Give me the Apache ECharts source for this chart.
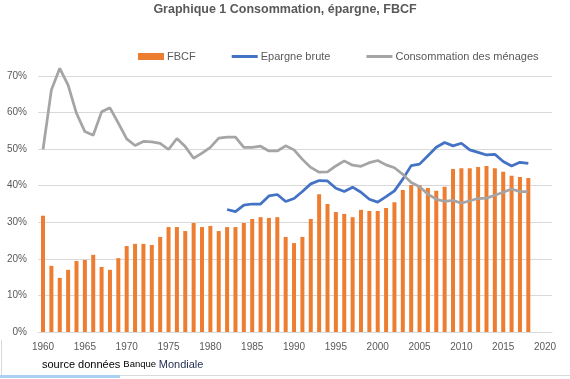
<!DOCTYPE html>
<html>
<head>
<meta charset="utf-8">
<script src="https://cdn.jsdelivr.net/npm/echarts@6/dist/echarts.min.js"></script>
<style>
html,body{margin:0;padding:0;background:#fff;}
#c{width:570px;height:379px;}
</style>
</head>
<body>
<div id="c"></div>
<script>
var years = [1960,1961,1962,1963,1964,1965,1966,1967,1968,1969,
             1970,1971,1972,1973,1974,1975,1976,1977,1978,1979,
             1980,1981,1982,1983,1984,1985,1986,1987,1988,1989,
             1990,1991,1992,1993,1994,1995,1996,1997,1998,1999,
             2000,2001,2002,2003,2004,2005,2006,2007,2008,2009,
             2010,2011,2012,2013,2014,2015,2016,2017,2018];
var fbcf = [31.8,18.1,14.8,17.0,19.4,19.7,21.1,17.8,17.0,20.2,
            23.5,24.1,24.1,23.8,26.0,28.7,28.7,27.6,29.8,28.7,
            29.0,27.6,28.7,28.7,29.8,30.9,31.4,31.2,31.4,26.0,
            24.3,26.0,30.9,37.7,35.0,32.8,32.3,31.4,33.4,33.1,
            33.1,33.9,35.5,38.8,40.2,40.2,39.4,38.6,39.7,44.6,
            44.8,44.8,45.1,45.4,44.8,43.8,42.7,42.4,42.1];
var consommation = [49.9,66.2,72.1,67.5,59.8,54.8,53.8,60.2,61.3,57.1,
                    52.8,51.0,52.1,52.0,51.6,49.9,52.9,50.7,47.5,48.9,
                    50.5,53.0,53.3,53.3,50.5,50.5,50.8,49.5,49.5,50.9,
                    49.8,47.2,45.0,43.7,43.8,45.4,46.8,45.6,45.3,46.3,
                    46.9,45.7,44.9,43.1,40.9,39.7,37.7,36.3,35.7,36.0,
                    35.2,35.9,36.5,36.6,37.4,38.2,39.1,38.4,38.4];
var epargneYears = [1982,1983,1984,1985,1986,1987,1988,1989,
                    1990,1991,1992,1993,1994,1995,1996,1997,1998,1999,
                    2000,2001,2002,2003,2004,2005,2006,2007,2008,2009,
                    2010,2011,2012,2013,2014,2015,2016,2017,2018];
var epargne = [33.5,32.9,34.7,35.0,35.0,37.2,37.6,35.7,
               36.5,38.4,40.5,41.4,41.3,39.3,38.4,39.6,38.2,36.3,
               35.5,37.0,38.6,41.8,45.5,45.9,48.2,50.5,51.8,50.9,
               51.6,49.8,49.1,48.4,48.6,46.6,45.4,46.4,46.1];
var xTicks = [1960,1965,1970,1975,1980,1985,1990,1995,2000,2005,2010,2015,2020];

function pairs(xs, ys){ return xs.map(function(x,i){ return [x, ys[i]]; }); }

var chart = echarts.init(document.getElementById('c'), null, {renderer:'canvas'});
var FONT = '"Liberation Sans", Arial, sans-serif';
var LINE_ICON = 'path://M0,0 L26,0 L26,3 L0,3 Z';
chart.setOption({
  animation: false,
  backgroundColor: '#fff',
  textStyle: {fontFamily: FONT},
  title: {
    text: 'Graphique 1 Consommation, épargne, FBCF',
    left: 'center', top: -2,
    textStyle: {fontFamily: FONT, fontSize: 12.5, fontWeight: 'bold', color: '#595959'}
  },
  legend: {
    left: 138, top: 51, padding: 0,
    itemWidth: 26, itemHeight: 7, itemGap: 36,
    textStyle: {fontFamily: FONT, fontSize: 11, color: '#595959', padding:[0,0,0,-2]},
    data: [{name:'FBCF', icon:'rect'},
           {name:'Epargne brute', icon: LINE_ICON, itemStyle:{color:'#4472C4'}},
           {name:'Consommation des ménages', icon: LINE_ICON, itemStyle:{color:'#A5A5A5'}}]
  },
  grid: {left: 38, right: 18, top: 76, bottom: 47},
  xAxis: {
    type: 'value', min: 1959.4, max: 2020.83,
    axisLine: {show: true, lineStyle: {color: '#D9D9D9', width: 1}},
    axisTick: {show: false},
    splitLine: {show: false},
    axisLabel: {customValues: xTicks, color: '#595959', fontSize: 10, margin: 10, fontFamily: FONT,
                formatter: function(v){ return String(Math.round(v)); }}
  },
  yAxis: {
    type: 'value', min: 0, max: 70, interval: 10,
    axisLine: {show: false}, axisTick: {show: false},
    splitLine: {lineStyle: {color: '#D9D9D9', width: 1}},
    axisLabel: {formatter: '{value}%', color: '#595959', fontSize: 10, margin: 11, fontFamily: FONT}
  },
  series: [
    {name:'FBCF', type:'bar', barWidth: 4, itemStyle:{color:'#ED7D31'},
     data: pairs(years, fbcf)},
    {name:'Epargne brute', type:'line', symbol:'none', clip:false,
     lineStyle:{color:'#4472C4', width:2.75}, itemStyle:{color:'#4472C4'},
     data: pairs(epargneYears, epargne)},
    {name:'Consommation des ménages', type:'line', symbol:'none', clip:false,
     lineStyle:{color:'#A5A5A5', width:2.75}, itemStyle:{color:'#A5A5A5'},
     data: pairs(years, consommation)}
  ],
  graphic: [
    {type:'text', left: 42, top: 359,
     style:{text:'{a|source données }{b|Banque }{c|Mondiale}',
       rich:{a:{fontSize:11, fill:'#000', fontFamily:FONT},
             b:{fontSize:9.5, fill:'#000', fontFamily:FONT},
             c:{fontSize:11, fill:'#1F2D50', fontFamily:FONT}}}},
    {type:'rect', shape:{x:0, y:375, width:570, height:1}, style:{fill:'#D9D9D9'}},
    {type:'rect', shape:{x:0, y:375, width:120, height:3}, style:{fill:'#A9D0F5'}},
    {type:'rect', shape:{x:1, y:340, width:1, height:35}, style:{fill:'#D9D9D9'}}
  ]
});
</script>
</body>
</html>
